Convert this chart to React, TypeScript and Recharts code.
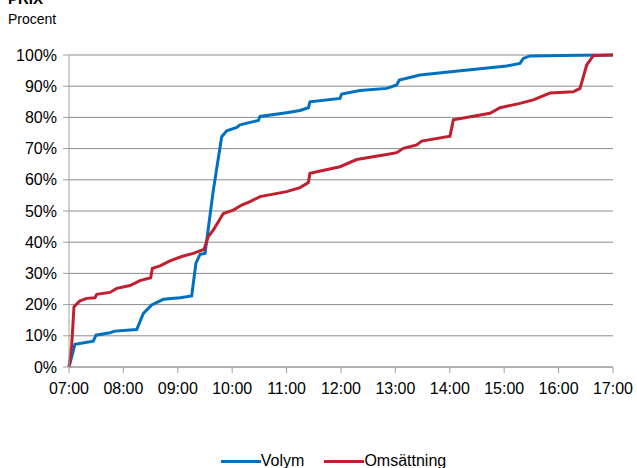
import React from "react";
import { LineChart, Line, XAxis, YAxis, CartesianGrid, Legend } from "recharts";

// minutes after 07:00 and cumulative share (%)
const volymMin = [0, 6.6, 26.8, 29.8, 45.2, 50.7, 74.7, 82, 91.2, 104, 122.4, 135.3, 140, 144.5, 150, 159.2, 168.4, 174, 185, 188.6, 208.8, 210.7, 240, 254.8, 264, 265.8, 298.9, 300.8, 321, 350.4, 361.4, 364.3, 387.1, 423.9, 482.8, 497.4, 501.1, 508.5, 563.6, 600];
const volymPct = [0, 7.3, 8.3, 10.2, 11, 11.5, 12, 17.2, 19.9, 21.7, 22.2, 22.8, 33.3, 36.1, 36.4, 56.7, 73.8, 75.7, 76.8, 77.6, 79, 80.3, 81.5, 82.2, 83.1, 85, 86.1, 87.5, 88.6, 89.3, 90.4, 92, 93.6, 94.7, 96.5, 97.3, 98.9, 99.7, 99.9, 100];

const omsMin = [0, 3, 5.5, 12.1, 19.5, 28.7, 30.6, 45.2, 52.6, 67.3, 78.3, 90.1, 91.9, 100.4, 111.4, 124.3, 137.1, 148.9, 153.6, 159.2, 170.2, 181.2, 190.5, 199.6, 210.7, 240, 254.8, 264, 265.8, 298.9, 317.3, 350.4, 361.4, 368.8, 383.5, 389, 420.2, 423.9, 464.3, 475.4, 497.4, 512.1, 530.5, 556.2, 563.6, 571, 578.3, 600];
const omsPct = [0, 7, 19.3, 21.2, 22, 22.2, 23.3, 23.9, 25.2, 26.1, 27.7, 28.6, 31.6, 32.4, 34, 35.4, 36.4, 37.7, 41.8, 43.9, 49.2, 50.3, 51.9, 53, 54.6, 56.2, 57.5, 59.1, 62.1, 64.2, 66.5, 68.1, 68.7, 70.1, 71.2, 72.4, 74, 79.2, 81.3, 83.1, 84.5, 85.6, 87.8, 88.2, 89.3, 96.8, 99.8, 100];

const xTicks = [0, 60, 120, 180, 240, 300, 360, 420, 480, 540, 600];
const xLabels = ["07:00", "08:00", "09:00", "10:00", "11:00", "12:00", "13:00", "14:00", "15:00", "16:00", "17:00"];
const yTicks = [0, 10, 20, 30, 40, 50, 60, 70, 80, 90, 100];

const BLUE = "#0070C0";
const RED = "#C0202E";
const FONT = "'Liberation Sans', Arial, sans-serif";

const volym = volymMin.map((m, i) => ({ t: m, v: volymPct[i] }));
const oms = omsMin.map((m, i) => ({ t: m, v: omsPct[i] }));

const LegendBox = () => (
  <div style={{ display: "flex", justifyContent: "center", gap: 20, fontFamily: FONT, fontSize: 16, color: "#000", paddingLeft: 30 }}>
    <span style={{ display: "flex", alignItems: "center" }}>
      <span style={{ display: "inline-block", width: 40, height: 3, background: BLUE }} />
      Volym
    </span>
    <span style={{ display: "flex", alignItems: "center" }}>
      <span style={{ display: "inline-block", width: 40, height: 3, background: RED }} />
      Omsättning
    </span>
  </div>
);

export default function App() {
  return (
    <div style={{ position: "absolute", left: 0, top: 0, width: 637, height: 468, background: "#fff", fontFamily: FONT }}>
      <div style={{ position: "absolute", left: 8, top: -10, fontSize: 15, fontWeight: "bold" }}>PRIX</div>
      <div style={{ position: "absolute", left: 8, top: 11, fontSize: 14 }}>Procent</div>
      <LineChart width={637} height={468} margin={{ top: 55, right: 24, bottom: 25, left: 0 }}>
        <CartesianGrid vertical={false} stroke="#8c8c8c" strokeWidth={1} />
        <XAxis
          type="number"
          dataKey="t"
          domain={[0, 600]}
          ticks={xTicks}
          tickFormatter={(v) => xLabels[xTicks.indexOf(v)]}
          stroke="#a0a0a0"
          tickSize={6}
          tick={{ fill: "#000", fontSize: 16, fontFamily: FONT, dy: 8 }}
          height={58}
          allowDuplicatedCategory={false}
        />
        <YAxis
          type="number"
          domain={[0, 100]}
          ticks={yTicks}
          tickFormatter={(v) => `${v}%`}
          stroke="#a0a0a0"
          tickSize={6}
          tick={{ fill: "#000", fontSize: 16, fontFamily: FONT, dx: -4 }}
          width={69}
        />
        <Legend
          content={<LegendBox />}
          wrapperStyle={{ position: "absolute", top: 452, left: 0, width: 637 }}
        />
        <Line data={volym} dataKey="v" name="Volym" type="linear" stroke={BLUE} strokeWidth={3} dot={false} isAnimationActive={false} />
        <Line data={oms} dataKey="v" name="Omsättning" type="linear" stroke={RED} strokeWidth={3} dot={false} isAnimationActive={false} />
      </LineChart>
    </div>
  );
}
